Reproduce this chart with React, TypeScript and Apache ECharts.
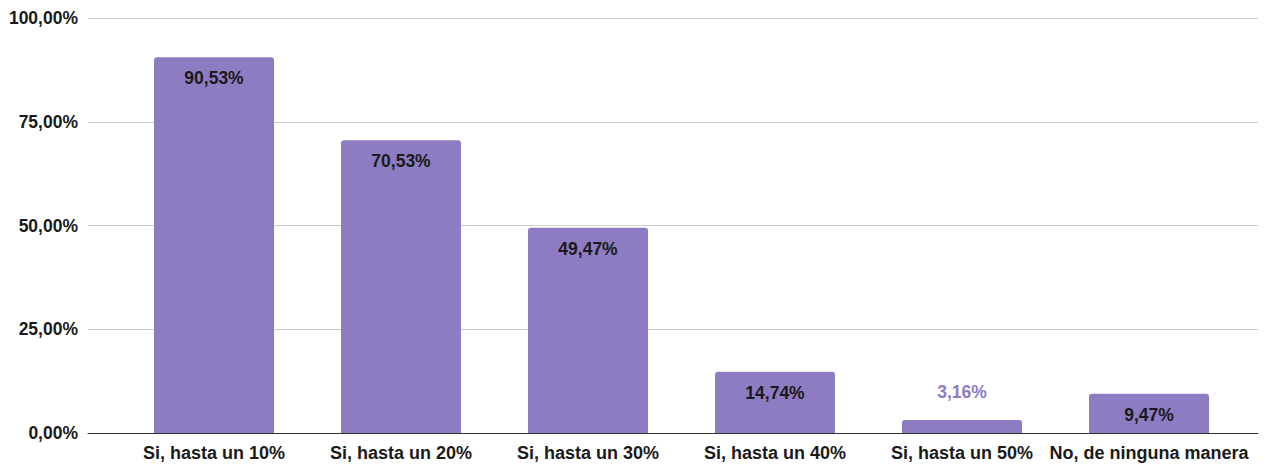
import React, { useEffect, useRef } from "react";
import * as echarts from "echarts";

const categories = [
  "Si, hasta un 10%",
  "Si, hasta un 20%",
  "Si, hasta un 30%",
  "Si, hasta un 40%",
  "Si, hasta un 50%",
  "No, de ninguna manera",
];
const values = [90.53, 70.53, 49.47, 14.74, 3.16, 9.47];
const yTicks = [0, 25, 50, 75, 100];

const BAR = "#8e7cc3";
const FONT = "'Liberation Sans', Arial, sans-serif";

const fmt = (v: number) => v.toFixed(2).replace(".", ",") + "%";

export default function App() {
  const ref = useRef<HTMLDivElement>(null);
  useEffect(() => {
    if (!ref.current) return;
    const chart = echarts.init(ref.current, null, { renderer: "svg" });
    const top = 18;
    const bottom = 31;
    chart.setOption({
      animation: false,
      backgroundColor: "#ffffff",
      grid: [
        { left: 88, right: 15, top, bottom },
        { left: 120.5, right: 30.5, top, bottom },
      ],
      xAxis: [
        {
          gridIndex: 0,
          type: "value",
          min: 0,
          max: 1,
          axisLabel: { show: false },
          axisTick: { show: false },
          splitLine: { show: false },
          axisLine: { show: true, onZero: false, lineStyle: { color: "#333333", width: 1 } },
        },
        {
          gridIndex: 1,
          type: "category",
          data: categories,
          axisLine: { show: false },
          axisTick: { show: false },
          axisLabel: {
            interval: 0,
            margin: 11,
            color: "#1a1a1a",
            fontFamily: FONT,
            fontWeight: "bold",
            fontSize: 18,
          },
        },
      ],
      yAxis: [
        {
          gridIndex: 0,
          type: "value",
          min: yTicks[0],
          max: yTicks[yTicks.length - 1],
          interval: 25,
          axisLine: { show: false },
          axisTick: { show: false },
          axisLabel: {
            margin: 10,
            color: "#1a1a1a",
            fontFamily: FONT,
            fontWeight: "bold",
            fontSize: 17.5,
            formatter: (v: number) => fmt(v),
          },
          splitLine: { show: true, lineStyle: { color: "#cccccc", width: 1 } },
        },
        {
          gridIndex: 1,
          type: "value",
          min: 0,
          max: 100,
          show: false,
          splitLine: { show: false },
        },
      ],
      series: [
        {
          type: "bar",
          xAxisIndex: 1,
          yAxisIndex: 1,
          barWidth: 120,
          itemStyle: { color: BAR, borderRadius: [3, 3, 0, 0] },
          data: values.map((v) => ({
            value: v,
            label:
              v < 5
                ? { position: "top", distance: 19, color: BAR }
                : { position: "insideTop", distance: 12, color: "#1a1a1a" },
          })),
          label: {
            show: true,
            fontFamily: FONT,
            fontWeight: "bold",
            fontSize: 17.5,
            formatter: (p: any) => fmt(p.value),
          },
        },
      ],
    });
    return () => chart.dispose();
  }, []);
  return (
    <div
      ref={ref}
      style={{ position: "fixed", left: 0, top: 0, width: 1273, height: 464 }}
    />
  );
}
